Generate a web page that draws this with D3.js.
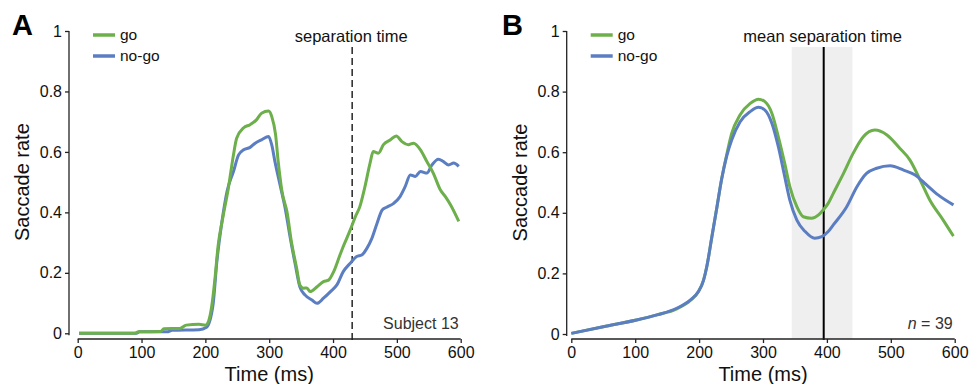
<!DOCTYPE html>
<html>
<head>
<meta charset="utf-8">
<script src="https://cdnjs.cloudflare.com/ajax/libs/d3/7.8.5/d3.min.js"></script>
<style>
  body { margin: 0; background: #fff; }
  svg { display: block; font-family: "Liberation Sans", Arial, sans-serif; }
</style>
</head>
<body>
<div id="chart"></div>
<script>
// Panel A - single subject
const goA_t = [2, 90, 95, 130, 135, 160, 170, 190, 200, 205, 210, 215, 220, 228, 236, 244, 249, 260, 270, 280, 288, 299, 304, 310, 314, 320, 328, 335, 343, 348, 354, 359, 364, 375, 385, 393, 401, 411, 416, 427, 435, 442, 450, 458, 463, 471, 479, 490, 499, 508, 518, 526, 537, 547, 557, 568, 576, 584, 597];
const goA_v = [0, 0, 0.005, 0.006, 0.015, 0.016, 0.027, 0.03, 0.027, 0.04, 0.09, 0.18, 0.29, 0.39, 0.48, 0.59, 0.645, 0.68, 0.69, 0.706, 0.728, 0.735, 0.717, 0.657, 0.57, 0.47, 0.40, 0.30, 0.215, 0.16, 0.149, 0.15, 0.138, 0.154, 0.171, 0.176, 0.204, 0.26, 0.287, 0.342, 0.386, 0.419, 0.485, 0.563, 0.601, 0.596, 0.624, 0.64, 0.653, 0.634, 0.624, 0.629, 0.607, 0.568, 0.53, 0.475, 0.452, 0.425, 0.37];
const nogoA_t = [2, 92, 97, 140, 148, 190, 202, 212, 218, 226, 234, 244, 252, 260, 270, 278, 288, 299, 304, 309, 317, 325, 333, 341, 348, 356, 367, 375, 385, 396, 406, 416, 427, 437, 445, 453, 461, 469, 477, 484, 495, 505, 513, 521, 529, 537, 547, 555, 565, 573, 581, 589, 597];
const nogoA_v = [0, 0, 0.005, 0.005, 0.01, 0.012, 0.02, 0.094, 0.237, 0.37, 0.47, 0.535, 0.59, 0.607, 0.615, 0.629, 0.64, 0.651, 0.623, 0.568, 0.491, 0.414, 0.315, 0.226, 0.154, 0.127, 0.11, 0.099, 0.116, 0.138, 0.16, 0.204, 0.232, 0.254, 0.259, 0.281, 0.315, 0.364, 0.408, 0.417, 0.43, 0.452, 0.485, 0.524, 0.519, 0.535, 0.53, 0.557, 0.576, 0.568, 0.557, 0.563, 0.552];
const sepTimeA = 430;

// Panel B - group mean
const goB_t = [0, 50, 102, 134, 165, 186, 199, 207, 212, 220, 228, 235, 243, 251, 264, 280, 293, 303, 314, 324, 334, 342, 353, 363, 376, 387, 394, 402, 410, 426, 441, 457, 475, 494, 514, 530, 546, 561, 582, 598];
const goB_v = [0.002, 0.024, 0.046, 0.063, 0.083, 0.11, 0.14, 0.178, 0.222, 0.321, 0.42, 0.508, 0.59, 0.662, 0.723, 0.761, 0.775, 0.767, 0.728, 0.651, 0.563, 0.486, 0.42, 0.387, 0.382, 0.393, 0.409, 0.431, 0.464, 0.53, 0.596, 0.651, 0.673, 0.657, 0.613, 0.574, 0.508, 0.442, 0.376, 0.323];
const nogoB_t = [0, 50, 102, 134, 165, 186, 199, 207, 212, 220, 228, 235, 243, 251, 264, 280, 293, 303, 314, 324, 334, 342, 353, 366, 381, 392, 402, 410, 431, 447, 462, 478, 499, 520, 538, 556, 574, 598];
const nogoB_v = [0.002, 0.024, 0.046, 0.063, 0.085, 0.112, 0.14, 0.178, 0.222, 0.321, 0.42, 0.508, 0.585, 0.64, 0.70, 0.734, 0.748, 0.739, 0.695, 0.618, 0.519, 0.442, 0.376, 0.338, 0.316, 0.321, 0.338, 0.36, 0.42, 0.486, 0.53, 0.547, 0.555, 0.541, 0.525, 0.492, 0.459, 0.426];
const sepTimeB = 395;
const sepRangeB = [345, 440];

const xTicks = [0, 100, 200, 300, 400, 500, 600];
const yTicks = [0, 0.2, 0.4, 0.6, 0.8, 1];
const yTickLabels = ['0', '0.2', '0.4', '0.6', '0.8', '1'];
const seriesNames = ['go', 'no-go'];

const GREEN = '#6caf4b';
const BLUE = '#5b7ec2';

const svg = d3.select('#chart').append('svg')
    .attr('width', 970)
    .attr('height', 384);

const zip = (t, v) => t.map((d, i) => ({ t: d, v: v[i] }));

function drawPanel(opts) {
    const x = d3.scaleLinear().domain([0, 600]).range([opts.x0, opts.x1]);
    const y = d3.scaleLinear().domain([0, 1]).range([opts.y0, 31]);
    const g = svg.append('g');

    // shaded range
    if (opts.band) {
        g.append('rect')
            .attr('x', x(opts.band[0]))
            .attr('width', x(opts.band[1]) - x(opts.band[0]))
            .attr('y', 47)
            .attr('height', 339 - 47)
            .attr('fill', '#efefef');
    }

    // separation line
    g.append('line')
        .attr('x1', x(opts.sep)).attr('x2', x(opts.sep))
        .attr('y1', 47).attr('y2', 340)
        .attr('stroke', opts.dashed ? '#333' : '#000')
        .attr('stroke-width', opts.dashed ? 1.6 : 2)
        .attr('stroke-dasharray', opts.dashed ? '7,4' : null);

    g.append('text')
        .attr('x', x(opts.sep) - 1)
        .attr('y', 42)
        .attr('text-anchor', 'middle')
        .style('font-size', '16.5px')
        .attr('fill', '#111')
        .text(opts.sepLabel);

    // axes
    const yAxis = g.append('g')
        .attr('transform', `translate(${opts.yAxisX}, 0)`)
        .call(d3.axisLeft(y).tickValues(yTicks).tickSize(4).tickPadding(3)
            .tickFormat((d, i) => yTickLabels[i]));
    const xAxis = g.append('g')
        .attr('transform', `translate(0, 339)`)
        .call(d3.axisBottom(x).tickValues(xTicks).tickSize(4).tickPadding(4));
    [xAxis, yAxis].forEach(a => {
        a.select('.domain').attr('stroke', '#222').attr('stroke-width', 1.3)
            .attr('d', null);
        a.selectAll('.tick line').attr('stroke', '#222').attr('stroke-width', 1.3);
        a.selectAll('.tick text').style('font-size', '16px').attr('fill', '#111')
            .style('font-family', '"Liberation Sans", Arial, sans-serif');
    });
    yAxis.select('.domain').attr('d', `M0,${y(0) + 2}V${y(1)}`);
    xAxis.select('.domain').attr('d', `M${x(0)},0H${x(600)}`);

    g.append('text')
        .attr('x', (x(0) + x(600)) / 2)
        .attr('y', 381)
        .attr('text-anchor', 'middle')
        .style('font-size', '20px')
        .attr('fill', '#111')
        .text('Time (ms)');

    g.append('text')
        .attr('transform', `translate(${opts.yAxisX - 40}, ${(y(0) + y(1)) / 2}) rotate(-90)`)
        .attr('text-anchor', 'middle')
        .style('font-size', '20px')
        .attr('fill', '#111')
        .text('Saccade rate');

    // lines
    const line = d3.line()
        .x(d => x(d.t))
        .y(d => y(d.v))
        .curve(d3.curveMonotoneX);
    opts.series.forEach(s => {
        g.append('path')
            .datum(zip(s.t, s.v))
            .attr('fill', 'none')
            .attr('stroke', s.color)
            .attr('stroke-width', 3)
            .attr('stroke-linejoin', 'round')
            .attr('d', line);
    });

    // legend
    const legend = g.append('g');
    seriesNames.forEach((name, i) => {
        const ly = 35 + i * 21;
        legend.append('line')
            .attr('x1', opts.yAxisX + 24).attr('x2', opts.yAxisX + 46)
            .attr('y1', ly).attr('y2', ly)
            .attr('stroke', i === 0 ? GREEN : BLUE)
            .attr('stroke-width', 3.5);
        legend.append('text')
            .attr('x', opts.yAxisX + 51)
            .attr('y', ly + 5)
            .style('font-size', '15.5px')
            .attr('fill', '#111')
            .text(name);
    });

    // panel letter
    g.append('text')
        .attr('x', opts.letterX)
        .attr('y', 35)
        .style('font-size', '29px')
        .style('font-weight', 'bold')
        .attr('fill', '#000')
        .text(opts.letter);

    // corner note
    const note = g.append('text')
        .attr('x', x(600) - 2)
        .attr('y', 329)
        .attr('text-anchor', 'end')
        .style('font-size', '16px')
        .attr('fill', '#333');
    opts.note(note);
}

drawPanel({
    letter: 'A', letterX: 12,
    x0: 77.7, x1: 460.7, y0: 333.3, yAxisX: 69,
    sep: sepTimeA, dashed: true, sepLabel: 'separation time',
    series: [
        { t: nogoA_t, v: nogoA_v, color: BLUE },
        { t: goA_t, v: goA_v, color: GREEN }
    ],
    note: t => t.text('Subject 13')
});

drawPanel({
    letter: 'B', letterX: 502,
    x0: 571.3, x1: 954.7, y0: 334, yAxisX: 566.7,
    sep: sepTimeB, dashed: false, sepLabel: 'mean separation time', band: sepRangeB,
    series: [
        { t: goB_t, v: goB_v, color: GREEN },
        { t: nogoB_t, v: nogoB_v, color: BLUE }
    ],
    note: t => {
        t.append('tspan').style('font-style', 'italic').text('n');
        t.append('tspan').text(' = 39');
    }
});
</script>
</body>
</html>
